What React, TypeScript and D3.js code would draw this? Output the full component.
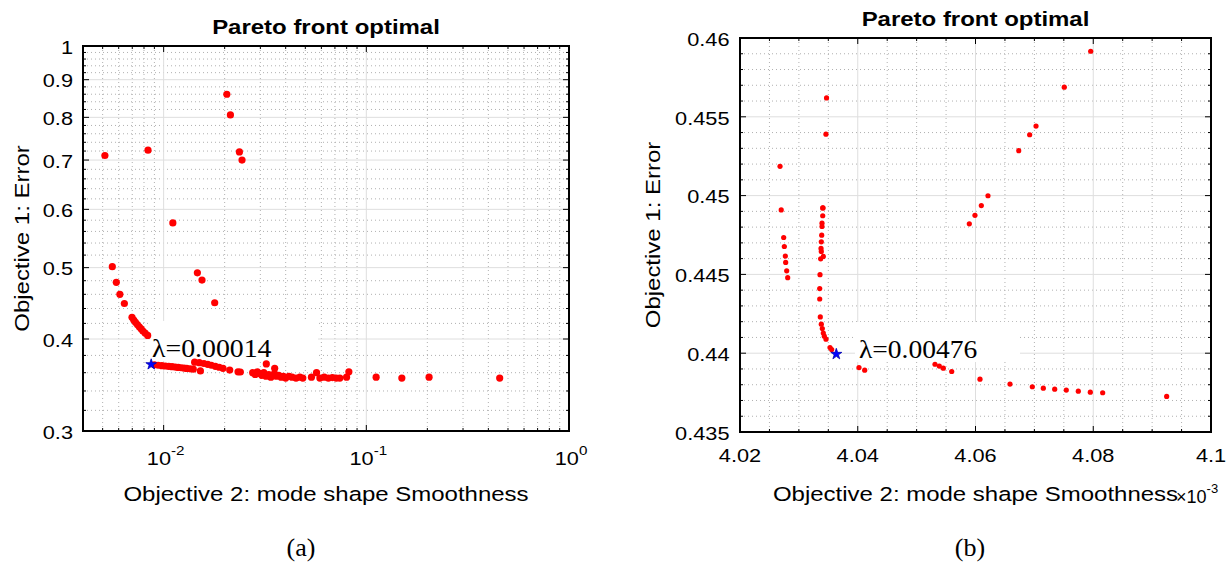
import React from "react";
import * as d3 from "d3";

const W = 1226;
const H = 562;

// ---------- Panel (a) data ----------
const aSmooth = [
  0.00513, 0.00837, 0.0205, 0.02135, 0.02365, 0.02436, 0.0111,
  0.00558, 0.00584, 0.00608, 0.0064,
  0.00698, 0.00712, 0.00726, 0.00742, 0.00758, 0.00774, 0.0079, 0.0081, 0.00834,
  0.01467, 0.01546, 0.01786,
  0.009, 0.0094, 0.0098, 0.0102, 0.0106, 0.011, 0.0114, 0.0118, 0.0122, 0.0126, 0.013, 0.0135, 0.014,
  0.01518,
  0.01422, 0.015, 0.0158, 0.0165, 0.0172, 0.018, 0.0188, 0.01963,
  0.02118, 0.02328, 0.0239, 0.0321, 0.0353,
  0.0275, 0.0283, 0.029, 0.0298, 0.0305, 0.0312, 0.032, 0.033, 0.0338, 0.0345, 0.0352, 0.036,
  0.037, 0.038, 0.039, 0.04, 0.0415, 0.043, 0.045, 0.047, 0.0486,
  0.0536, 0.0568, 0.059, 0.062, 0.065, 0.068, 0.071, 0.074, 0.0799, 0.082,
  0.1118, 0.1497, 0.204, 0.455,
];
const aError = [
  0.71, 0.722, 0.86, 0.806, 0.718, 0.7, 0.575,
  0.5016, 0.4776, 0.46, 0.447,
  0.428, 0.4245, 0.4215, 0.4185, 0.4155, 0.413, 0.41, 0.4075, 0.4045,
  0.492, 0.481, 0.448,
  0.369, 0.3685, 0.368, 0.3676, 0.3672, 0.3668, 0.3664, 0.366, 0.3656, 0.3652, 0.3648, 0.3644, 0.364,
  0.362,
  0.372, 0.3715, 0.3705, 0.3695, 0.3685, 0.3672, 0.3662, 0.365,
  0.363, 0.361, 0.3608, 0.37, 0.365,
  0.36, 0.358, 0.361, 0.359, 0.357, 0.36, 0.356, 0.358, 0.355, 0.357, 0.359, 0.356,
  0.357, 0.355, 0.356, 0.354, 0.356, 0.355, 0.354, 0.355, 0.354,
  0.355, 0.36, 0.354, 0.355, 0.354, 0.3545, 0.354, 0.354, 0.355, 0.361,
  0.355, 0.354, 0.355, 0.354,
];
const aStar = [0.00868, 0.3694];
const aLabel = "λ=0.00014";
const aXTickExp = [-2, -1, 0];
const aYTicks = [0.3, 0.4, 0.5, 0.6, 0.7, 0.8, 0.9, 1];
const aYTickLabels = ["0.3", "0.4", "0.5", "0.6", "0.7", "0.8", "0.9", "1"];

// ---------- Panel (b) data (x in units of 1e-3) ----------
const bSmooth = [
  4.0347, 4.0346, 4.0268, 4.027, 4.03405,
  4.02742, 4.02753, 4.0277, 4.02776, 4.02793, 4.0281,
  4.0341, 4.03405, 4.03393, 4.03393, 4.03388, 4.03381, 4.03376, 4.03381, 4.03415, 4.0337,
  4.03359, 4.03354, 4.03354, 4.03364, 4.03381, 4.03398, 4.03415, 4.03432, 4.03461, 4.03529, 4.03557,
  4.04021, 4.04118,
  4.07957, 4.07508, 4.07028, 4.0692, 4.06734, 4.06212, 4.06099, 4.05991, 4.05895,
  4.05312, 4.05385, 4.05453, 4.05596, 4.06076, 4.06586, 4.06965, 4.07152, 4.07345, 4.07542,
  4.07746, 4.0795, 4.0816, 4.09247,
];
const bError = [
  0.4562, 0.4539, 0.45186, 0.44909, 0.44922,
  0.44734, 0.44677, 0.44616, 0.44576, 0.44523, 0.44479,
  0.44922, 0.44872, 0.44825, 0.44804, 0.44749, 0.44707, 0.44665, 0.44646, 0.44614, 0.44599,
  0.44498, 0.4441, 0.44344, 0.4423, 0.44184, 0.44156, 0.44128, 0.44108, 0.44089, 0.44036, 0.44023,
  0.43909, 0.43892,
  0.45916, 0.45688, 0.45441, 0.45386, 0.45285, 0.44999, 0.44937, 0.44875, 0.44821,
  0.4393, 0.43918, 0.43905, 0.43884, 0.43835, 0.43804, 0.43787, 0.43778, 0.43772, 0.43766,
  0.43759, 0.43753, 0.43749, 0.43726,
];
const bStar = [4.03636, 0.43994];
const bLabel = "λ=0.00476";
const bXTicks = [4.02, 4.04, 4.06, 4.08, 4.1];
const bXTickLabels = ["4.02", "4.04", "4.06", "4.08", "4.1"];
const bYTicks = [0.435, 0.44, 0.445, 0.45, 0.455, 0.46];
const bYTickLabels = ["0.435", "0.44", "0.445", "0.45", "0.455", "0.46"];

const title = "Pareto front optimal";
const xLabel = "Objective 2: mode shape Smoothness";
const yLabel = "Objective 1: Error";

const SX = 1.17;
const SANS = "'Liberation Sans', Arial, Helvetica, sans-serif";
const SERIF = "'Liberation Serif', 'Times New Roman', serif";
const MAJOR = "#dedede";
const MINOR = "#b0b0b0";

type TP = {
  x: number; y: number; size: number; anchor?: string; weight?: string;
  rotate?: number; children: React.ReactNode; family?: string; sx?: number;
};
function T({ x, y, size, anchor = "start", weight = "normal", rotate, children, family = SANS, sx = SX }: TP) {
  const tr = `translate(${x},${y})${rotate ? ` rotate(${rotate})` : ""} scale(${sx},1)`;
  return (
    <text transform={tr} textAnchor={anchor} fontSize={size} fontWeight={weight} fontFamily={family} fill="#000">
      {children}
    </text>
  );
}

function range(a: number, b: number, step: number) {
  const out: number[] = [];
  for (let i = 0; a + i * step <= b + 1e-9; i++) out.push(+(a + i * step).toFixed(6));
  return out;
}

function PanelA() {
  const L = 83, R = 569, Tp = 46, B = 431;
  const x = d3.scaleLog().domain([0.004, 1]).range([L, R]);
  const y = d3.scaleLog().domain([0.3, 1]).range([B, Tp]);
  const xMajor = aXTickExp.map((e) => Math.pow(10, e));
  const xMinor: number[] = [];
  [-3, -2, -1].forEach((e) => {
    for (let k = 2; k <= 9; k++) {
      const v = k * Math.pow(10, e);
      if (v >= 0.004 - 1e-9 && v <= 1) xMinor.push(v);
    }
  });
  const yMinor = range(0.32, 0.98, 0.02).filter((v) => Math.abs(v * 10 - Math.round(v * 10)) > 1e-6);
  const star = d3.symbol(d3.symbolStar, 36)();
  return (
    <g>
      {xMinor.map((v, i) => (
        <line key={"xm" + i} x1={x(v)} x2={x(v)} y1={Tp} y2={B} stroke={MINOR} strokeDasharray="1 3" />
      ))}
      {yMinor.map((v, i) => (
        <line key={"ym" + i} x1={L} x2={R} y1={y(v)} y2={y(v)} stroke={MINOR} strokeDasharray="1 3" />
      ))}
      {xMajor.map((v, i) => (
        <line key={"xM" + i} x1={x(v)} x2={x(v)} y1={Tp} y2={B} stroke={MAJOR} />
      ))}
      {aYTicks.map((v, i) => (
        <line key={"yM" + i} x1={L} x2={R} y1={y(v)} y2={y(v)} stroke={MAJOR} />
      ))}
      <rect x={150} y={321} width={168} height={40} fill="#fff" />
      <T x={152} y={357} size={26} family={SERIF} sx={1.07}>{aLabel}</T>
      {aSmooth.map((v, i) => (
        <circle key={"p" + i} cx={x(v)} cy={y(aError[i])} r={3.6} fill="#ff0000" />
      ))}
      <path d={star!} transform={`translate(${x(aStar[0])},${y(aStar[1])})`} fill="#0000ff" stroke="#0000b0" strokeWidth={0.8} />
      {xMajor.map((v, i) => (
        <g key={"xt" + i}>
          <line x1={x(v)} x2={x(v)} y1={B} y2={B - 6} stroke="#000" />
          <line x1={x(v)} x2={x(v)} y1={Tp} y2={Tp + 6} stroke="#000" />
        </g>
      ))}
      {xMinor.map((v, i) => (
        <g key={"xmt" + i}>
          <line x1={x(v)} x2={x(v)} y1={B} y2={B - 3} stroke="#000" />
          <line x1={x(v)} x2={x(v)} y1={Tp} y2={Tp + 3} stroke="#000" />
        </g>
      ))}
      {aYTicks.map((v, i) => (
        <g key={"yt" + i}>
          <line x1={L} x2={L + 6} y1={y(v)} y2={y(v)} stroke="#000" />
          <line x1={R} x2={R - 6} y1={y(v)} y2={y(v)} stroke="#000" />
        </g>
      ))}
      {yMinor.map((v, i) => (
        <g key={"ymt" + i}>
          <line x1={L} x2={L + 3} y1={y(v)} y2={y(v)} stroke="#000" />
          <line x1={R} x2={R - 3} y1={y(v)} y2={y(v)} stroke="#000" />
        </g>
      ))}
      <rect x={L} y={Tp} width={R - L} height={B - Tp} fill="none" stroke="#000" strokeWidth={2} />
      {aYTicks.map((v, i) => (
        <T key={"yl" + i} x={L - 10} y={y(v) + 7.5} size={18.6} anchor="end">{aYTickLabels[i]}</T>
      ))}
      {aXTickExp.map((e, i) => (
        <T key={"xl" + i} x={x(Math.pow(10, e)) + 2} y={465} size={18.6} anchor="middle">
          <tspan>10</tspan>
          <tspan dy={-10} fontSize={13}>{String(e)}</tspan>
        </T>
      ))}
      <T x={(L + R) / 2} y={33.5} size={20.5} anchor="middle" weight="bold">{title}</T>
      <T x={(L + R) / 2} y={501} size={20.5} anchor="middle">{xLabel}</T>
      <T x={28.5} y={(Tp + B) / 2} size={20.5} anchor="middle" rotate={-90}>{yLabel}</T>
      <T x={301} y={556} size={26} anchor="middle" family={SERIF} sx={1}>(a)</T>
    </g>
  );
}

function PanelB() {
  const L = 740, R = 1211, Tp = 38, B = 432;
  const x = d3.scaleLinear().domain([4.02, 4.1]).range([L, R]);
  const y = d3.scaleLinear().domain([0.435, 0.46]).range([B, Tp]);
  const xMinor = range(4.02, 4.1, 0.005).filter((v) => !bXTicks.some((t) => Math.abs(t - v) < 1e-6));
  const yMinor = range(0.435, 0.46, 0.001).filter((v) => !bYTicks.some((t) => Math.abs(t - v) < 1e-7));
  const star = d3.symbol(d3.symbolStar, 38)();
  return (
    <g>
      {xMinor.map((v, i) => (
        <line key={"xm" + i} x1={x(v)} x2={x(v)} y1={Tp} y2={B} stroke={MINOR} strokeDasharray="1 3" />
      ))}
      {yMinor.map((v, i) => (
        <line key={"ym" + i} x1={L} x2={R} y1={y(v)} y2={y(v)} stroke={MINOR} strokeDasharray="1 3" />
      ))}
      {bXTicks.map((v, i) => (
        <line key={"xM" + i} x1={x(v)} x2={x(v)} y1={Tp} y2={B} stroke={MAJOR} />
      ))}
      {bYTicks.map((v, i) => (
        <line key={"yM" + i} x1={L} x2={R} y1={y(v)} y2={y(v)} stroke={MAJOR} />
      ))}
      <rect x={855} y={322} width={165} height={40} fill="#fff" />
      <T x={859} y={357.5} size={25.5} family={SERIF} sx={1.08}>{bLabel}</T>
      {bSmooth.map((v, i) => (
        <circle key={"p" + i} cx={x(v)} cy={y(bError[i])} r={2.6} fill="#ff0000" />
      ))}
      <path d={star!} transform={`translate(${x(bStar[0])},${y(bStar[1])})`} fill="#0000ff" stroke="#0000b0" strokeWidth={0.8} />
      {bXTicks.map((v, i) => (
        <g key={"xt" + i}>
          <line x1={x(v)} x2={x(v)} y1={B} y2={B - 6} stroke="#000" />
          <line x1={x(v)} x2={x(v)} y1={Tp} y2={Tp + 6} stroke="#000" />
        </g>
      ))}
      {xMinor.map((v, i) => (
        <g key={"xmt" + i}>
          <line x1={x(v)} x2={x(v)} y1={B} y2={B - 3} stroke="#000" />
          <line x1={x(v)} x2={x(v)} y1={Tp} y2={Tp + 3} stroke="#000" />
        </g>
      ))}
      {bYTicks.map((v, i) => (
        <g key={"yt" + i}>
          <line x1={L} x2={L + 6} y1={y(v)} y2={y(v)} stroke="#000" />
          <line x1={R} x2={R - 6} y1={y(v)} y2={y(v)} stroke="#000" />
        </g>
      ))}
      {yMinor.map((v, i) => (
        <g key={"ymt" + i}>
          <line x1={L} x2={L + 3} y1={y(v)} y2={y(v)} stroke="#000" />
          <line x1={R} x2={R - 3} y1={y(v)} y2={y(v)} stroke="#000" />
        </g>
      ))}
      <rect x={L} y={Tp} width={R - L} height={B - Tp} fill="none" stroke="#000" strokeWidth={2} />
      {bYTicks.map((v, i) => (
        <T key={"yl" + i} x={L - 10.5} y={y(v) + 7.8} size={18.6} anchor="end">{bYTickLabels[i]}</T>
      ))}
      {bXTicks.map((v, i) => (
        <T key={"xl" + i} x={x(v)} y={462} size={18.6} anchor="middle">{bXTickLabels[i]}</T>
      ))}
      <T x={1176} y={503} size={18} sx={1}>
        <tspan>×10</tspan>
        <tspan dy={-10} fontSize={13}>-3</tspan>
      </T>
      <T x={(L + R) / 2} y={26} size={20.5} anchor="middle" weight="bold">{title}</T>
      <T x={(L + R) / 2} y={501} size={20.5} anchor="middle">{xLabel}</T>
      <T x={660} y={(Tp + B) / 2} size={20.5} anchor="middle" rotate={-90}>{yLabel}</T>
      <T x={970} y={556} size={26} anchor="middle" family={SERIF} sx={1}>(b)</T>
    </g>
  );
}

export default function App() {
  return (
    <svg width={W} height={H} style={{ position: "absolute", left: 0, top: 0, background: "#fff" }}>
      <rect width={W} height={H} fill="#fff" />
      <PanelA />
      <PanelB />
    </svg>
  );
}
